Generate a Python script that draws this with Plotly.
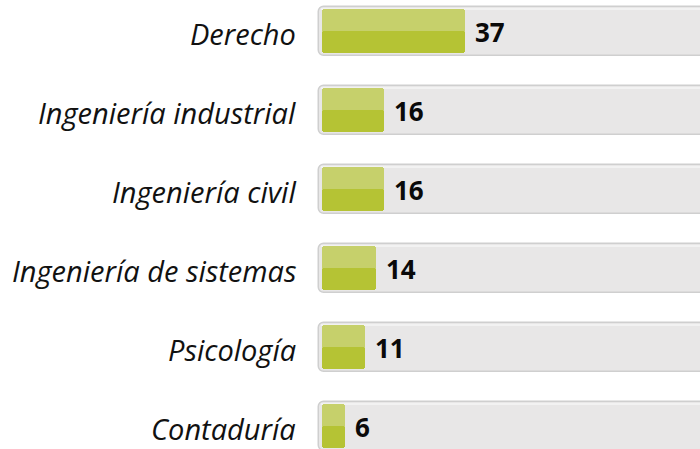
import plotly.graph_objects as go

categories = ["Derecho", "Ingeniería industrial", "Ingeniería civil",
              "Ingeniería de sistemas", "Psicología", "Contaduría"]
values = [37, 16, 16, 14, 11, 6]
track_max = 200

W, H = 700, 449
ROW = 79.0          # px between rows
TOP_CENTER = 31.0   # px center of first row
X0 = 322.0          # px of value 0
PXU = 3.87          # px per unit

ypos = list(range(len(categories)))
y_top = -TOP_CENTER / ROW
y_bot = (H - TOP_CENTER) / ROW
x_lo = -X0 / PXU
x_hi = (W - X0) / PXU
track_base = (319 - X0) / PXU

track_w = 49 / ROW
green_w = 43.5 / ROW

fig = go.Figure()
# background track
fig.add_trace(go.Bar(
    y=ypos, x=[track_max - track_base] * len(ypos), base=track_base,
    orientation="h", width=track_w,
    marker=dict(color="#e8e7e7", line=dict(color="#cfcfcf", width=1.5), cornerradius=6),
    hoverinfo="skip", showlegend=False))
# light highlight at top of track
fig.add_trace(go.Bar(
    y=ypos, x=[track_max] * len(ypos), base=track_base + 0.5,
    orientation="h", width=2 / ROW, offset=-track_w / 2 + 1.5 / ROW,
    marker=dict(color="#f2f2f2", line=dict(width=0)),
    hoverinfo="skip", showlegend=False))
# green bar light (full)
fig.add_trace(go.Bar(
    y=ypos, x=values, base=0, orientation="h", width=green_w, offset=-green_w / 2,
    marker=dict(color="#c6d06b", line=dict(width=0), cornerradius=3),
    hoverinfo="skip", showlegend=False))
# green bar dark (bottom half)
fig.add_trace(go.Bar(
    y=ypos, x=values, base=0, orientation="h", width=green_w / 2, offset=0,
    marker=dict(color="#b5c334", line=dict(width=0), cornerradius=3),
    hoverinfo="skip", showlegend=False))

for yi, (c, v) in enumerate(zip(categories, values)):
    fig.add_annotation(x=298 / W, xref="paper", y=yi, yref="y", text=c,
                       showarrow=False, xanchor="right", yanchor="middle", yshift=-2,
                       font=dict(family="Open Sans", size=29, color="#111111", style="italic"))
    fig.add_annotation(x=v, xref="x", y=yi, yref="y", text=f"<b>{v}</b>",
                       showarrow=False, xanchor="left", yanchor="middle", xshift=8, yshift=-1,
                       font=dict(family="Open Sans", size=26, color="#0a0a0a"))

fig.update_layout(
    width=W, height=H, margin=dict(l=0, r=0, t=0, b=0),
    paper_bgcolor="white", plot_bgcolor="white",
    barmode="overlay", bargap=0,
    xaxis=dict(range=[x_lo, x_hi], visible=False, fixedrange=True),
    yaxis=dict(range=[y_bot, y_top], visible=False, fixedrange=True),
)
fig.write_html("out.html", config={"displayModeBar": False},
               post_script="document.body.style.margin='0';")
